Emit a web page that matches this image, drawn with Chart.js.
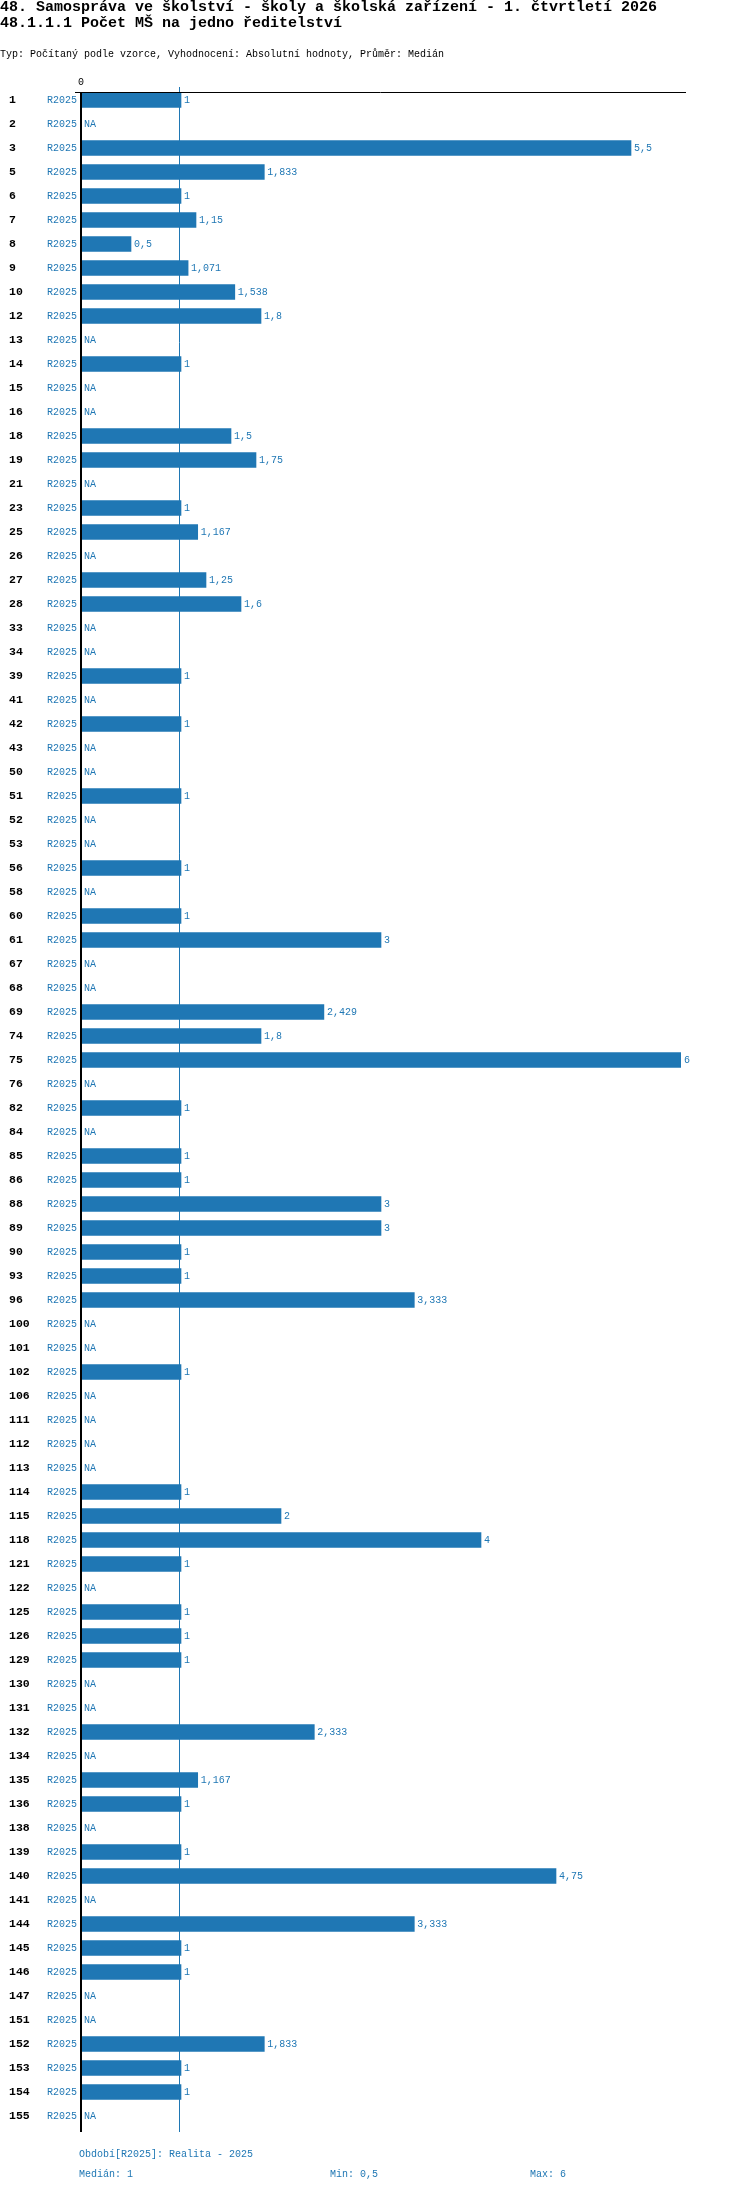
<!DOCTYPE html>
<html lang="cs">
<head>
<meta charset="utf-8">
<title>48.1.1.1 Počet MŠ na jedno ředitelství</title>
<script src="https://cdn.jsdelivr.net/npm/chart.js@4/dist/chart.umd.min.js"></script>
<style>
  html, body { margin: 0; padding: 0; background: #fff; }
  body { width: 750px; height: 2192px; position: relative; overflow: hidden; font-family: 'Liberation Mono', 'DejaVu Sans Mono', monospace; }
  canvas { position: absolute; left: 0; top: 0; }
  .t { position: absolute; white-space: pre; }
  .h1 { font-size: 15px; line-height: 15px; font-weight: bold; color: #000; left: 0; }
  .sub { font-size: 10px; line-height: 10px; color: #000; left: 0; }
  .foot { font-size: 10px; line-height: 10px; color: #1f77b4; }
</style>
</head>
<body>
<canvas id="myChart" width="750" height="2192"></canvas>
<div class="t h1" style="top:0">48. Samospráva ve školství - školy a školská zařízení - 1. čtvrtletí 2026</div>
<div class="t h1" style="top:16px">48.1.1.1 Počet MŠ na jedno ředitelství</div>
<div class="t sub" style="top:50px">Typ: Počítaný podle vzorce, Vyhodnocení: Absolutní hodnoty, Průměr: Medián</div>
<div class="t foot" id="period" style="top:2150px; left:79px"></div>
<div class="t foot" id="median" style="top:2170px; left:79px"></div>
<div class="t foot" id="min" style="top:2170px; left:330px"></div>
<div class="t foot" id="max" style="top:2170px; left:530px"></div>
<script>
// kódy škol (řádky grafu)
const categories = ['1', '2', '3', '5', '6', '7', '8', '9', '10', '12',
  '13', '14', '15', '16', '18', '19', '21', '23', '25', '26',
  '27', '28', '33', '34', '39', '41', '42', '43', '50', '51',
  '52', '53', '56', '58', '60', '61', '67', '68', '69', '74',
  '75', '76', '82', '84', '85', '86', '88', '89', '90', '93',
  '96', '100', '101', '102', '106', '111', '112', '113', '114', '115',
  '118', '121', '122', '125', '126', '129', '130', '131', '132', '134',
  '135', '136', '138', '139', '140', '141', '144', '145', '146', '147',
  '151', '152', '153', '154', '155'];

// hodnoty R2025 (null = NA)
const valuesR2025 = [1, null, 5.5, 1.833, 1, 1.15, 0.5, 1.071, 1.538, 1.8,
  null, 1, null, null, 1.5, 1.75, null, 1, 1.167, null,
  1.25, 1.6, null, null, 1, null, 1, null, null, 1,
  null, null, 1, null, 1, 3, null, null, 2.429, 1.8,
  6, null, 1, null, 1, 1, 3, 3, 1, 1,
  3.333, null, null, 1, null, null, null, null, 1, 2,
  4, 1, null, 1, 1, 1, null, null, 2.333, null,
  1.167, 1, null, 1, 4.75, null, 3.333, 1, 1, null,
  null, 1.833, 1, 1, null];

const periodCode = 'R2025';
const periodName = 'Realita - 2025';
const medianValue = 1;
const minValue = 0.5;
const maxValue = 6;
const xTicks = [0];

const blue = 'rgb(31, 119, 180)';
const family = "'Liberation Mono', 'DejaVu Sans Mono', monospace";

function fmt(v) {
  return String(v).replace('.', ',');
}

document.getElementById('period').textContent = 'Období[' + periodCode + ']: ' + periodName;
document.getElementById('median').textContent = 'Medián: ' + fmt(medianValue);
document.getElementById('min').textContent = 'Min: ' + fmt(minValue);
document.getElementById('max').textContent = 'Max: ' + fmt(maxValue);

// čáry os a medián + popisky hodnot
const decor = {
  id: 'decor',
  beforeDatasetsDraw(chart) {
    const ctx = chart.ctx;
    const area = chart.chartArea;
    const x = chart.scales.x;
    const mx = Math.round(x.getPixelForValue(medianValue)) - 1.5;
    ctx.save();
    ctx.strokeStyle = blue;
    ctx.lineWidth = 1;
    ctx.beginPath();
    ctx.moveTo(mx, area.top - 1);
    ctx.lineTo(mx, area.bottom + 4);
    ctx.stroke();
    ctx.restore();
  },
  afterDatasetsDraw(chart) {
    const ctx = chart.ctx;
    const area = chart.chartArea;
    const x = chart.scales.x;
    const y = chart.scales.y;
    const meta = chart.getDatasetMeta(0);
    ctx.save();
    // horní linka
    ctx.strokeStyle = '#000';
    ctx.lineWidth = 1;
    ctx.beginPath();
    ctx.moveTo(area.left - 6, area.top + 4.5);
    ctx.lineTo(area.right + 5, area.top + 4.5);
    ctx.stroke();
    // svislá osa
    ctx.lineWidth = 2;
    ctx.beginPath();
    ctx.moveTo(area.left, area.top + 4);
    ctx.lineTo(area.left, area.bottom + 4);
    ctx.stroke();
    // popisky
    ctx.fillStyle = blue;
    ctx.font = '10px ' + family;
    ctx.textAlign = 'left';
    ctx.textBaseline = 'middle';
    valuesR2025.forEach((v, i) => {
      const py = y.getPixelForValue(i);
      if (v === null) {
        ctx.fillText('NA', x.getPixelForValue(0) + 3, py);
      } else {
        ctx.fillText(fmt(v), meta.data[i].x + 3, py);
      }
    });
    ctx.restore();
  }
};

const config = {
  type: 'bar',
  data: {
    labels: categories,
    datasets: [
      {
        label: periodCode,
        data: valuesR2025,
        backgroundColor: blue,
        borderWidth: 0,
        barThickness: 15,
        yAxisID: 'y',
      },
    ],
  },
  options: {
    indexAxis: 'y',
    responsive: false,
    animation: false,
    devicePixelRatio: 1,
    layout: {
      padding: { left: 9, right: 69, top: 76, bottom: 64 },
    },
    plugins: {
      legend: { display: false },
      tooltip: { enabled: false },
    },
    scales: {
      x: {
        type: 'linear',
        position: 'top',
        min: 0,
        max: maxValue,
        afterFit: (s) => { s.height = 12; },
        afterBuildTicks: (s) => { s.ticks = xTicks.map((v) => ({ value: v })); },
        grid: { display: false, drawTicks: false },
        border: { display: false },
        ticks: {
          padding: 0,
          color: '#000',
          font: { family: family, size: 10 },
          callback: (v) => fmt(v),
        },
      },
      y: {
        type: 'category',
        position: 'left',
        weight: 1,
        offset: true,
        afterFit: (s) => { s.width = 30; },
        grid: { display: false, drawTicks: false },
        border: { display: false },
        ticks: {
          crossAlign: 'far',
          padding: 0,
          autoSkip: false,
          color: '#000',
          font: { family: family, size: 11.5, weight: 'bold' },
        },
      },
      y2: {
        type: 'category',
        position: 'left',
        weight: 0,
        offset: true,
        afterFit: (s) => { s.width = 42; },
        grid: { display: false, drawTicks: false },
        border: { display: false },
        ticks: {
          padding: 4,
          autoSkip: false,
          color: blue,
          font: { family: family, size: 10 },
          callback: () => periodCode,
        },
      },
    },
  },
  plugins: [decor],
};

const myChart = new Chart(document.getElementById('myChart'), config);
</script>
</body>
</html>
